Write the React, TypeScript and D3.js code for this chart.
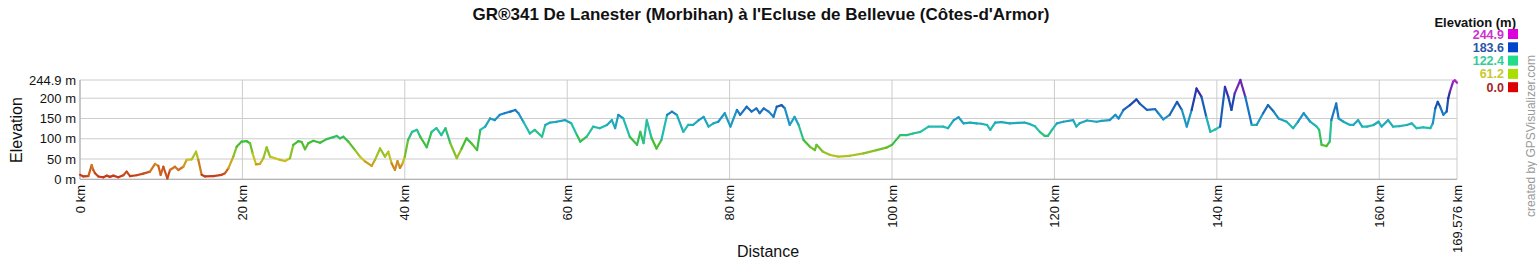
import React from "react";
import * as d3 from "d3";

const TITLE = "GR®341 De Lanester (Morbihan) à l'Ecluse de Bellevue (Côtes-d'Armor)";
const TOTAL_KM = 169.576;
const MAX_ELE = 244.9;

const distKm = [
  0, 0.41, 1.03, 1.44, 1.64, 1.85, 2.26, 2.87, 3.28, 3.69, 4.1, 4.72, 5.34, 5.75, 6.16, 6.98, 7.8, 8.62, 9.24, 9.65,
  9.93, 10.26, 10.76, 11.08, 11.7, 12.11, 12.73, 13.14, 13.75, 14.29, 14.57, 14.98, 15.39, 16.42, 17.45, 17.86, 18.27, 18.88, 19.29, 19.91,
  20.53, 20.94, 21.26, 21.67, 22.17, 22.58, 22.99, 23.4, 24.01, 24.63, 25.25, 25.86, 26.27, 26.89, 27.3, 27.71, 28.12, 28.74, 29.56, 30.38,
  31.2, 31.61, 32.02, 32.43, 33.05, 33.87, 34.48, 35.1, 35.92, 36.33, 36.95, 37.56, 37.97, 38.38, 38.79, 39.1, 39.4, 39.7, 40.0, 40.4,
  40.9, 41.5, 41.9, 42.7, 43.3, 43.9, 44.5, 45.0, 45.6, 46.4, 47.0, 47.6, 48.2, 48.9, 49.3, 49.9, 50.5, 51.1, 51.7, 52.3,
  53.0, 53.6, 54.0, 54.6, 55.4, 56.0, 56.9, 57.3, 57.9, 58.7, 59.7, 60.5, 61.2, 61.6, 62.4, 63.2, 64.0, 64.9, 65.5, 65.9,
  66.3, 66.9, 67.7, 68.6, 69.0, 69.4, 69.8, 70.4, 71.0, 71.6, 72.3, 72.9, 73.5, 74.3, 74.9, 75.5, 76.2, 76.8, 77.4, 78.0,
  78.6, 79.4, 80.1, 80.9, 81.3, 82.1, 82.7, 83.3, 83.7, 84.2, 84.8, 85.4, 85.8, 86.4, 86.8, 87.4, 88.0, 88.5, 89.1, 89.9,
  90.5, 90.7, 91.5, 92.4, 93.4, 94.8, 96.5, 98.1, 99.3, 100.0, 101.0, 101.8, 102.6, 103.5, 104.5, 106.3, 106.9, 107.6, 108.2, 108.8,
  109.6, 110.4, 111.0, 111.7, 112.1, 112.7, 113.5, 114.5, 115.5, 116.3,
  117.0, 117.6, 118.2, 118.8, 119.2, 119.7, 120.3, 121.1, 122.3, 122.7, 123.1, 124.0, 125.2, 125.8, 126.8, 127.5, 127.9,
  128.5, 129.3, 130.1, 130.5, 131.4, 132.4, 132.8, 133.4, 134.2, 135.1, 135.7, 136.3, 136.9, 137.5, 138.1, 138.7, 139.2, 139.8, 140.4, 141.0,
  141.4, 141.8, 142.2, 142.9, 143.5, 144.3, 144.9, 145.7, 146.3, 147.0, 147.6, 148.6, 149.4, 150.0, 150.7, 151.5, 152.3, 152.6, 152.9, 153.5,
  153.9, 154.1, 154.7, 155.0, 155.6, 156.4, 156.8, 157.4, 157.9, 158.5, 159.3, 159.9, 160.3, 161.1, 161.7,
  162.5, 163.4, 164.0, 164.6, 165.4, 166.3, 166.6,
  166.9, 167.2, 167.5, 167.9, 168.3, 168.5, 168.7, 169.1, 169.3, 169.576,
];

const elevM = [
  11, 7, 8, 35, 23, 15, 7, 5, 9, 6, 9, 5, 10, 19, 8, 10, 14, 19, 38, 33,
  11, 31, 2, 23, 31, 23, 31, 48, 49, 68, 48, 11, 7, 8, 11, 15, 27, 56, 80, 93,
  94, 89, 64, 37, 38, 52, 79, 56, 52, 48, 45, 52, 85, 94, 92, 74, 89, 95, 90, 99,
  104, 107, 101, 105, 93, 72, 56, 44, 33, 48, 76, 56, 68, 39, 23, 45, 28, 38, 56, 97,
  117, 122, 105, 79, 117, 126, 109, 126, 89, 52, 76, 101, 89, 72, 122, 130, 150, 146, 159, 163,
  167, 171, 163, 142, 113, 122, 105, 134, 140, 142, 146, 138, 109, 93, 105, 130, 126, 134, 146, 126,
  159, 150, 105, 85, 117, 89, 146, 101, 76, 97, 159, 167, 159, 117, 134, 134, 146, 154, 130, 138,
  142, 163, 130, 171, 159, 179, 167, 175, 163, 175, 167, 154, 179, 183, 175, 134, 154, 134, 97, 80,
  72, 85, 68, 60, 56, 58, 64, 72, 78, 85, 109, 109, 113, 117, 130, 130, 126, 146, 153, 138,
  140, 138, 137, 134, 122, 140, 141, 138, 139, 140,
  136, 131, 117, 107, 107, 122, 138, 142, 146, 130, 138, 145, 142, 144, 146, 159, 150,
  171, 183, 197, 187, 171, 173, 163, 148, 159, 191, 171, 130, 171, 224, 204, 154, 117, 123, 130, 228,
  204, 171, 212, 244.9, 204, 134, 134, 163, 183, 167, 150, 142, 126, 142, 163, 142, 130, 122, 85, 82,
  93, 146, 187, 150, 142, 134, 134, 146, 130, 130, 134, 142, 130, 146, 130,
  131, 134, 138, 126, 128, 126, 138,
  175, 191, 179, 159, 167, 200, 216, 241, 244, 238,
];

const yTicks = [0, 50, 100, 150, 200, 244.9];
const yTickLabels = ["0 m", "50 m", "100 m", "150 m", "200 m", "244.9 m"];
const xTicks = [0, 20, 40, 60, 80, 100, 120, 140, 160, 169.576];
const xTickLabels = ["0 km", "20 km", "40 km", "60 km", "80 km", "100 km", "120 km", "140 km", "160 km", "169.576 km"];

const legendValues = ["244.9", "183.6", "122.4", "61.2", "0.0"];
const legendTextColors = ["#cc33cc", "#2a55a8", "#33cc99", "#c8c832", "#aa2222"];
const legendBoxColors = ["#dd00dd", "#0044cc", "#22dd88", "#aadd00", "#dd0000"];

const colorStops = [0, 25, 50, 90, 125, 160, 185, 210, 244.9];
const colorRange = ["#c0261a", "#cf6a1e", "#c9c41e", "#3cbf2e", "#22c0b0", "#1a88cc", "#1a4fb0", "#2a2aa8", "#b822c8"];

const FONT = "Arial, 'Liberation Sans', Helvetica, sans-serif";

export default function App() {
  const left = 80, right = 1457, top = 80, bottom = 179.3;
  const x = d3.scaleLinear().domain([0, TOTAL_KM]).range([left, right]);
  const y = d3.scaleLinear().domain([0, MAX_ELE]).range([bottom, top]);
  const color = d3.scaleLinear<string>().domain(colorStops).range(colorRange).interpolate(d3.interpolateRgb);

  const n = Math.min(distKm.length, elevM.length);
  const pts = [] as [number, number][];
  for (let i = 0; i < n; i++) pts.push([distKm[i], elevM[i]]);
  const line = d3.line<[number, number]>().x((p) => x(p[0])).y((p) => y(p[1]));
  const segs = [] as { d: string; c: string }[];
  for (let i = 0; i < pts.length - 1; i++) {
    const a = pts[i], b = pts[i + 1];
    segs.push({ d: line([a, b]) || "", c: color((a[1] + b[1]) / 2) });
  }

  return (
    <svg width={1537} height={260} style={{ position: "absolute", left: 0, top: 0, background: "#fff" }} fontFamily={FONT}>
      <rect x={0} y={0} width={1537} height={260} fill="#fff" />
      <text x={761} y={20} textAnchor="middle" fontSize={17} fontWeight="bold" fill="#111">{TITLE}</text>

      {yTicks.map((t, i) => (
        <g key={"yt" + i}>
          <line x1={left} x2={right} y1={y(t)} y2={y(t)} stroke="#cccccc" strokeWidth={1} />
          <text x={76} y={y(t)} dy="0.36em" textAnchor="end" fontSize={13} fill="#111">{yTickLabels[i]}</text>
        </g>
      ))}
      {xTicks.map((t, i) => (
        <g key={"xt" + i}>
          <line x1={x(t)} x2={x(t)} y1={top} y2={bottom} stroke="#cccccc" strokeWidth={1} />
          <text transform={`translate(${x(t)},185) rotate(-90)`} dy="0.36em" textAnchor="end" fontSize={13} fill="#111">{xTickLabels[i]}</text>
        </g>
      ))}
      <line x1={left} x2={left} y1={top} y2={bottom} stroke="#aaaaaa" />
      <line x1={left} x2={right} y1={bottom} y2={bottom} stroke="#aaaaaa" />

      {segs.map((s, i) => (
        <path key={"s" + i} d={s.d} stroke={s.c} strokeWidth={2.2} fill="none" strokeLinecap="round" />
      ))}

      <text transform="translate(22,130) rotate(-90)" textAnchor="middle" fontSize={16} fill="#111">Elevation</text>
      <text x={768} y={257} textAnchor="middle" fontSize={16} fill="#111">Distance</text>

      <text x={1516} y={27} textAnchor="end" fontSize={13} fontWeight="bold" fill="#111">Elevation (m)</text>
      {legendValues.map((v, i) => {
        const by = 38.5 + i * 13.3;
        return (
          <g key={"lg" + i}>
            <text x={1504} y={by} textAnchor="end" fontSize={12.5} fontWeight="bold" fill={legendTextColors[i]}>{v}</text>
            <rect x={1508} y={by - 9.5} width={10} height={10} fill={legendBoxColors[i]} />
          </g>
        );
      })}
      <text transform="translate(1535,136) rotate(-90)" textAnchor="middle" fontSize={12} fill="#999">created by GPSVisualizer.com</text>
    </svg>
  );
}
